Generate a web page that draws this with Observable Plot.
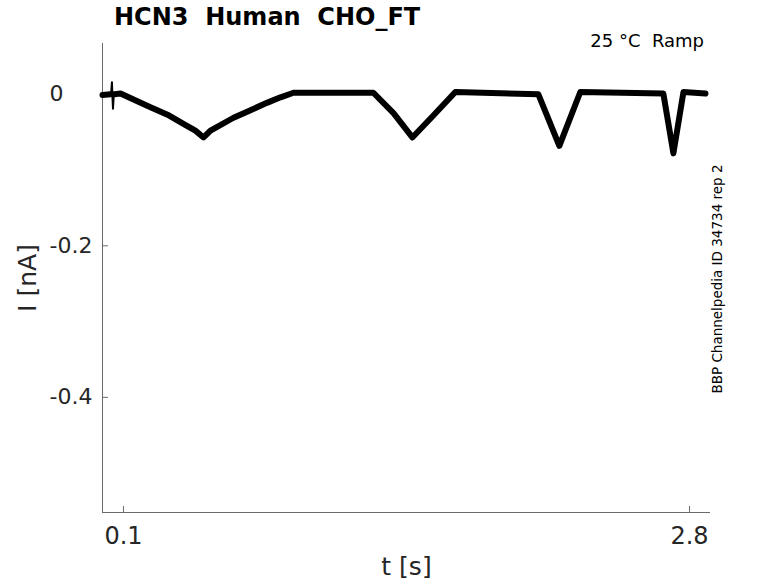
<!DOCTYPE html>
<html><head><meta charset="utf-8">
<script src="https://cdn.jsdelivr.net/npm/d3@7"></script>
<script src="https://cdn.jsdelivr.net/npm/@observablehq/plot@0.6"></script>
<style>
body{margin:0;background:#fff;}
#wrap{position:relative;width:778px;height:583px;font-family:"DejaVu Sans",sans-serif;color:#262626;}
#title{position:absolute;left:114px;top:3px;font-weight:bold;font-size:24px;white-space:pre;color:#000;line-height:28px;}
#cond{position:absolute;right:74px;top:30px;font-size:18px;white-space:pre;color:#000;line-height:21px;}
#side{position:absolute;left:717px;top:279px;transform:translate(-50%,-50%) rotate(-90deg);font-size:13.5px;white-space:pre;color:#000;line-height:16px;}
</style></head><body>
<div id="wrap"><div id="chart"></div>
<div id="title">HCN3  Human  CHO_FT</div>
<div id="cond">25 °C  Ramp</div>
<div id="side">BBP Channelpedia ID 34734 rep 2</div>
</div>
<script>
// Trace key points (time in s, current in nA)
const timeS = [0, 0.038, 0.057, 0.086, 0.148, 0.229, 0.310, 0.386, 0.443, 0.482, 0.515, 0.625, 0.706, 0.787, 0.849, 0.911,
  1.292, 1.388, 1.478, 1.578, 1.683, 2.079, 2.179, 2.279, 2.675, 2.723, 2.771, 2.876];
const currentNA = [-0.001, 0.000, 0.000, 0.001, -0.007, -0.017, -0.027, -0.039, -0.048, -0.057, -0.048, -0.031, -0.021, -0.011, -0.004, 0.002,
  0.002, -0.025, -0.057, -0.028, 0.003, 0.000, -0.068, 0.003, 0.001, -0.078, 0.003, 0.001];
// Capacitive artifact near the start
const spikeT = [0.041, 0.045, 0.047, 0.050, 0.054];
const spikeI = [0.000, 0.016, 0.000, -0.019, 0.000];

const xTicks = [0.1, 2.8];
const yTicksZero = [0];
const yTicksNeg = [-0.2, -0.4];
const xDomain = [0, 2.9];
const yDomain = [-0.552, 0.067];

const trace = timeS.map((t, k) => ({t, i: currentNA[k]}));
const spike = spikeT.map((t, k) => ({t, i: spikeI[k]}));
const axisColor = "#6a6a6a";
const fmt = d => d === 0 ? "0" : d.toFixed(1);

const plot = Plot.plot({
  width: 778, height: 583,
  marginLeft: 102, marginRight: 68, marginTop: 43, marginBottom: 71,
  style: {fontFamily: "DejaVu Sans", color: "#262626", background: "white", overflow: "visible"},
  x: {domain: xDomain},
  y: {domain: yDomain},
  marks: [
    Plot.ruleX([xDomain[0]], {stroke: axisColor}),
    Plot.ruleY([yDomain[0]], {stroke: axisColor}),
    Plot.axisX(xTicks, {tickSize: -6, fill: "none", stroke: axisColor, label: null}),
    Plot.axisY([...yTicksZero, ...yTicksNeg], {tickSize: -6, fill: "none", stroke: axisColor, label: null}),
    Plot.axisX(xTicks, {tickSize: 0, tickPadding: 14, fontSize: 24, fill: "#262626", tickFormat: fmt, label: null}),
    Plot.axisY(yTicksZero, {tickSize: 0, tickPadding: 39, fontSize: 22, fill: "#262626", tickFormat: fmt, label: null}),
    Plot.axisY(yTicksNeg, {tickSize: 0, tickPadding: 10, fontSize: 22, fill: "#262626", tickFormat: fmt, label: null}),
    Plot.axisX([], {tickSize: 0, label: "t [s]", labelAnchor: "center", labelArrow: "none", labelOffset: 62, fontSize: 25, fill: "#262626"}),
    Plot.axisY([], {tickSize: 0, label: "I [nA]", labelAnchor: "center", labelArrow: "none", labelOffset: 84, fontSize: 25, fill: "#262626"}),
    Plot.line(trace, {x: "t", y: "i", stroke: "black", strokeWidth: 6, strokeLinejoin: "round", strokeLinecap: "round"}),
    Plot.line(spike, {x: "t", y: "i", stroke: "black", strokeWidth: 2})
  ]
});
document.getElementById("chart").appendChild(plot);
</script>
</body></html>
